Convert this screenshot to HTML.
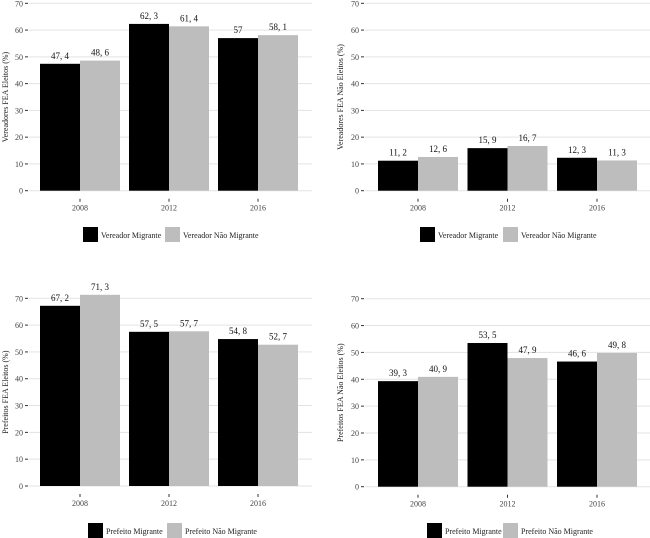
<!DOCTYPE html>
<html><head><meta charset="utf-8">
<style>
html,body{margin:0;padding:0;background:#fff;}
svg{display:block;font-family:"Liberation Serif",serif;}
</style></head>
<body>
<svg id="chart" width="650" height="538" viewBox="0 0 650 538"></svg>
<script>
const categories = ["2008","2012","2016"];
const vereadorEleitosMigrante = [47.4, 62.3, 57];
const vereadorEleitosNaoMigrante = [48.6, 61.4, 58.1];
const vereadorNaoEleitosMigrante = [11.2, 15.9, 12.3];
const vereadorNaoEleitosNaoMigrante = [12.6, 16.7, 11.3];
const prefeitoEleitosMigrante = [67.2, 57.5, 54.8];
const prefeitoEleitosNaoMigrante = [71.3, 57.7, 52.7];
const prefeitoNaoEleitosMigrante = [39.3, 53.5, 46.6];
const prefeitoNaoEleitosNaoMigrante = [40.9, 47.9, 49.8];
const yTicks = [0,10,20,30,40,50,60,70];

const NS = "http://www.w3.org/2000/svg";
const svg = document.getElementById("chart");
function mk(tag, attrs, parent){
  const e = document.createElementNS(NS, tag);
  for (const k in attrs) e.setAttribute(k, attrs[k]);
  parent.appendChild(e);
  return e;
}
function fmt(v){ return String(v).replace(".", ", "); }

function panel(cfg){
  const g = mk("g", {}, svg);
  
  
  const y = v => cfg.y0 - (cfg.y0 - cfg.y70) * v / 70;
  const cx = i => cfg.c0 + i * cfg.step;
  // grid + y ticks
  yTicks.forEach(t => {
    const gl = mk("line", {x1: cfg.axX, x2: cfg.right, y1: y(t), y2: y(t), stroke: "#e3e3e3", "stroke-width": 1}, g);
    
    
    mk("line", {x1: cfg.axX-4, x2: cfg.axX-1, y1: y(t), y2: y(t), stroke: "#333", "stroke-width": 1}, g);
    const tl = mk("text", {x: cfg.axX-6, y: y(t)+3, "text-anchor": "end", "font-size": 8, fill: "#444"}, g);
    tl.textContent = t;
    
    
  });
  // y title
  const yt = mk("text", {x: 0, y: 0, "text-anchor": "middle", "font-size": 8, fill: "#222",
    transform: `translate(${cfg.titleX},${(cfg.y0+cfg.y70)/2}) rotate(-90)`}, g);
  yt.textContent = cfg.title;
  
  
  // bars
  const bw = 40;
  categories.forEach((c, i) => {
    [[cfg.a, "#000", -bw], [cfg.b, "#bdbdbd", 0]].forEach(([arr, col, off]) => {
      const v = arr[i];
      const r = mk("rect", {x: cx(i)+off, y: y(v), width: bw, height: cfg.y0 - y(v), fill: col}, g);
      
      
      const lb = mk("text", {x: cx(i)+off+bw/2, y: y(v)-5, "text-anchor": "middle", "font-size": 9, fill: "#111"}, g);
      lb.textContent = fmt(v);
      
      
    });
    mk("line", {x1: cx(i), x2: cx(i), y1: cfg.y0+8, y2: cfg.y0+11, stroke: "#333", "stroke-width": 1}, g);
    const xl = mk("text", {x: cx(i), y: cfg.y0+20, "text-anchor": "middle", "font-size": 8, fill: "#444"}, g);
    xl.textContent = c;
    
    
  });
  // legend
  const lg = mk("g", {}, g);
  
  
  const ly = cfg.legY;
  mk("rect", {x: cfg.leg1, y: ly, width: 15, height: 15, fill: "#000"}, lg);
  const t1 = mk("text", {x: cfg.leg1+18, y: ly+11, "font-size": 8, fill: "#222"}, lg);
  t1.textContent = cfg.l1;
  
  
  mk("rect", {x: cfg.leg2, y: ly, width: 15, height: 15, fill: "#bdbdbd"}, lg);
  const t2 = mk("text", {x: cfg.leg2+18, y: ly+11, "font-size": 8, fill: "#222"}, lg);
  t2.textContent = cfg.l2;
  
  
}

panel({name:"panel-vereadores-eleitos", a: vereadorEleitosMigrante, b: vereadorEleitosNaoMigrante,
  y0:190.7, y70:3.3, axX:29, right:312, c0:80, step:89, titleX:8,
  title:"Vereadores FEA Eleitos (%)", legY:227, leg1:83, leg2:165,
  l1:"Vereador Migrante", l2:"Vereador Não Migrante"});
panel({name:"panel-vereadores-nao-eleitos", a: vereadorNaoEleitosMigrante, b: vereadorNaoEleitosNaoMigrante,
  y0:190.7, y70:3.3, axX:365, right:650, c0:418, step:89.5, titleX:343,
  title:"Vereadores FEA Não Eleitos (%)", legY:227, leg1:420, leg2:503,
  l1:"Vereador Migrante", l2:"Vereador Não Migrante"});
panel({name:"panel-prefeitos-eleitos", a: prefeitoEleitosMigrante, b: prefeitoEleitosNaoMigrante,
  y0:486, y70:298.3, axX:29, right:312, c0:80, step:89, titleX:8,
  title:"Prefeitos FEA Eleitos (%)", legY:523, leg1:88, leg2:167,
  l1:"Prefeito Migrante", l2:"Prefeito Não Migrante"});
panel({name:"panel-prefeitos-nao-eleitos", a: prefeitoNaoEleitosMigrante, b: prefeitoNaoEleitosNaoMigrante,
  y0:486.7, y70:298.7, axX:365, right:650, c0:418, step:89.5, titleX:343,
  title:"Prefeitos FEA Não Eleitos (%)", legY:523, leg1:427, leg2:503,
  l1:"Prefeito Migrante", l2:"Prefeito Não Migrante"});
</script>
</body></html>
